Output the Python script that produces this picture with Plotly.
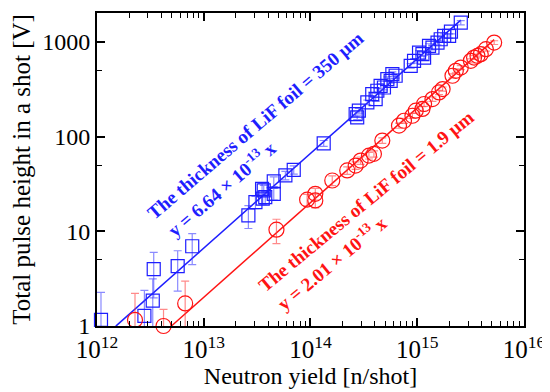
import plotly.graph_objects as go
import numpy as np

# ---- data ----
blue_x = [1.09e12, 2.78e12, 3.33e12, 3.40e12, 5.7e12, 7.8e12,
          2.62e13, 3.05e13, 3.57e13, 3.65e13, 3.52e13, 3.77e13, 4.53e13, 4.53e13, 5.82e13, 6.97e13, 1.33e14,
          2.65e14, 2.74e14, 2.84e14, 3.41e14, 3.79e14, 4.08e14, 4.23e14, 4.54e14, 4.88e14, 5.25e14,
          5.64e14, 5.85e14, 6.28e14, 8.69e14, 9.34e14, 1.04e15, 1.12e15, 1.16e15, 1.29e15, 1.39e15,
          1.55e15, 1.66e15, 1.79e15, 1.99e15, 2.07e15, 2.56e15]
blue_y = [1.16, 1.28, 1.85, 3.98, 4.28, 6.95,
          14.7, 20.3, 22.1, 27.0, 28.1, 23.0, 33.6, 24.9, 38.9, 44.6, 85.0,
          173, 160, 188, 230, 281, 249, 305, 344, 330, 405,
          388, 457, 439, 559, 631, 771, 742, 684, 908, 871,
          984, 1067, 1156, 1156, 1283, 1596]
blue_err = [1.1, 1.1, 1.3, 2.0, 1.95, 2.5,
            4.0, 3.0, 3.0, 3.5, 4.0, 3.5, 4.0, 3.5, 4.0, 4.5, 6.0,
            10, 9, 11, 13, 15, 14, 17, 19, 18, 22,
            21, 25, 24, 30, 34, 40, 40, 37, 48, 46,
            52, 56, 60, 60, 66, 80]

red_x = [2.27e12, 4.2e12, 6.7e12,
         4.8e13, 9.3e13, 1.11e14, 1.11e14, 1.6e14, 2.21e14, 2.65e14, 2.95e14, 3.53e14,
         3.93e14, 4.71e14, 6.75e14, 7.52e14, 9.02e14, 9.69e14, 1.12e15, 1.16e15, 1.39e15, 1.6e15,
         1.73e15, 2.14e15, 2.30e15, 2.56e15, 3.18e15, 3.41e15, 3.67e15, 3.94e15, 4.40e15, 5.26e15]
red_y = [1.16, 1.0, 1.73,
         10.4, 21.6, 21.2, 24.9, 34.4, 43.9, 49.5, 55.9, 63.0,
         65.7, 90.8, 130.6, 147, 166, 188, 196, 221, 249, 293,
         318, 439, 495, 536, 631, 684, 712, 742, 838, 984]
red_err = [1.05, 0.5, 1.25,
           3.0, 3.0, 3.5, 3.5, 4.0, 4.0, 4.5, 5.0, 5.0,
           5.0, 6.0, 8.0, 9.0, 10, 11, 11, 12, 13, 15,
           16, 21, 24, 26, 30, 32, 33, 35, 40, 45]

blue_slope = 6.64e-13
red_slope = 2.01e-13
blue_fit_x = [1.5e12, 2.56e15]
red_fit_x = [4.98e12, 5.26e15]

x_tickvals = [1e12, 1e13, 1e14, 1e15, 1e16]
x_ticktext = ["10<sup>12</sup>", "10<sup>13</sup>", "10<sup>14</sup>", "10<sup>15</sup>", "10<sup>16</sup>"]
y_tickvals = [1, 10, 100, 1000]
y_ticktext = ["1", "10", "100", "1000"]

BLUE = "rgb(30,30,255)"
RED = "rgb(255,20,20)"
FONT = "Liberation Serif, Times New Roman, serif"

fig = go.Figure()

fig.add_trace(go.Scatter(
    x=blue_fit_x, y=[blue_slope * v for v in blue_fit_x], mode="lines",
    line=dict(color=BLUE, width=1.5), showlegend=False, hoverinfo="skip"))
fig.add_trace(go.Scatter(
    x=red_fit_x, y=[red_slope * v for v in red_fit_x], mode="lines",
    line=dict(color=RED, width=1.5), showlegend=False, hoverinfo="skip"))

fig.add_trace(go.Scatter(
    x=blue_x, y=blue_y, mode="markers",
    marker=dict(symbol="square-open", size=13, color=BLUE, line=dict(width=1.2)),
    error_y=dict(type="data", array=blue_err, visible=True, color="rgba(60,60,255,0.6)",
                 thickness=1.2, width=4),
    cliponaxis=False, showlegend=False))
fig.add_trace(go.Scatter(
    x=red_x, y=red_y, mode="markers",
    marker=dict(symbol="circle-open", size=15, color=RED, line=dict(width=1.2)),
    error_y=dict(type="data", array=red_err, visible=True, color="rgba(255,60,60,0.6)",
                 thickness=1.2, width=4),
    cliponaxis=False, showlegend=False))

x_minor = [k * 10 ** e for e in range(12, 16) for k in range(2, 10)]
y_minor = [5, 50, 500]

fig.update_xaxes(
    type="log", range=[12, 16.0005], tickvals=x_tickvals, ticktext=x_ticktext,
    ticks="inside", ticklen=8, tickwidth=1.5, tickcolor="black",
    showline=True, linecolor="black", linewidth=2, mirror="allticks",
    showgrid=False, zeroline=False, automargin=False,
    tickfont=dict(family=FONT, size=25, color="black"),
    minor=dict(tickvals=x_minor, ticks="inside", ticklen=5, tickwidth=1.2, tickcolor="black", showgrid=False),
    title=dict(text="Neutron yield [n/shot]", font=dict(family=FONT, size=24, color="black"), standoff=4))
fig.update_yaxes(
    type="log", range=[0, np.log10(2020)], tickvals=y_tickvals, ticktext=y_ticktext,
    ticks="inside", ticklen=8, tickwidth=1.5, tickcolor="black",
    showline=True, linecolor="black", linewidth=2, mirror="allticks",
    showgrid=False, zeroline=False, automargin=False,
    tickfont=dict(family=FONT, size=24, color="black"),
    minor=dict(tickvals=y_minor, ticks="inside", ticklen=5, tickwidth=1.2, tickcolor="black", showgrid=False),
    title=dict(text="Total pulse height in a shot [V]", font=dict(family=FONT, size=25, color="black"), standoff=6))

ann_font_b = dict(family=FONT, size=19, color=BLUE)
ann_font_r = dict(family=FONT, size=19, color=RED)
fig.add_annotation(x=13.484, y=2.116, xref="x", yref="y", text="<b>The thickness of LiF foil = 350 μm</b>",
                   textangle=-40.5, showarrow=False, font=ann_font_b)
fig.add_annotation(x=13.164, y=1.453, xref="x", yref="y", text="<b>y = 6.64 × 10<sup>-13</sup> x</b>",
                   textangle=-40.5, showarrow=False, font=ann_font_b)
fig.add_annotation(x=14.516, y=1.316, xref="x", yref="y", text="<b>The thickness of LiF foil = 1.9 μm</b>",
                   textangle=-39.5, showarrow=False, font=ann_font_r)
fig.add_annotation(x=14.197, y=0.674, xref="x", yref="y", text="<b>y = 2.01 × 10<sup>-13</sup> x</b>",
                   textangle=-39.5, showarrow=False, font=ann_font_r)

# page body has an 8px default margin, so the figure is sized/offset to land on the same pixels
fig.update_layout(
    width=542, height=384, margin=dict(l=89, r=26, t=5, b=66),
    paper_bgcolor="white", plot_bgcolor="white", showlegend=False)

fig.write_html("out.html")
